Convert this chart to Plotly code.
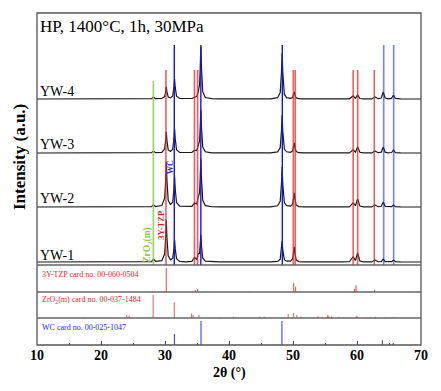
import plotly.graph_objects as go

# ---------------- data ----------------
two_theta = [10, 27.4, 27.9, 28.2, 28.5, 29.5, 29.95, 30.1, 30.2, 30.3, 30.5, 30.85, 31.2, 31.4, 31.5,
             31.6, 31.8, 32.3, 33.3, 34.2, 34.6, 34.95, 35.2, 35.4, 35.5, 35.6, 35.7, 35.9, 36.3, 37.3,
             38.5, 46.5, 47.6, 48.0, 48.2, 48.3, 48.4, 48.65, 49.0, 49.6, 49.95, 50.1, 50.2, 50.3, 50.5,
             50.9, 51.8, 57.5, 58.8, 59.4, 59.75, 60.1, 60.45, 61.0, 62.3, 62.8, 63.3, 63.8, 64.1, 64.4,
             64.9, 65.4, 65.7, 66.0, 66.8, 70]

yw4 = [0, 0.1, 0.3, 2, 0.4, 0.5, 2.4, 7.2, 12.2, 7.3, 2.0, 1.1, 3.0, 12, 20,
       11.8, 2.8, 0.5, 0.3, 0.5, 1.8, 2.4, 7.3, 14.3, 31.1, 52.2, 30.7, 7.3, 1.5, 0.3,
       0.1, 0.2, 1.3, 6.4, 27, 46, 27, 4.8, 1.4, 0.6, 1.5, 4.3, 7.2, 4.3, 1.1,
       0.3, 0.1, 0.1, 0.15, 3.1, 0.7, 4.1, 0.5, 0.1, 0.1, 2.1, 0.3, 1.0, 7, 1.0,
       0.2, 0.6, 4, 0.56, 0.1, 0]
yw3 = [0, 0.1, 0.3, 2, 0.4, 0.7, 4.1, 12.6, 21.2, 12.6, 3.2, 1.5, 3.7, 14.4, 24.1,
       14.2, 3.4, 0.6, 0.3, 0.5, 2.8, 2.4, 7.7, 12.2, 26, 43.3, 25.4, 6.0, 1.25, 0.2,
       0.1, 0.2, 1.1, 5.3, 22.4, 38, 22.4, 4.0, 1.2, 0.7, 2.1, 6.1, 10.1, 6.0, 1.4,
       0.3, 0.1, 0.1, 0.15, 3.2, 0.9, 6.1, 0.7, 0.1, 0.1, 2.1, 0.3, 0.9, 6, 0.84,
       0.2, 0.5, 3, 0.42, 0.1, 0]
yw2 = [0, 0.1, 0.3, 2.2, 0.5, 1.5, 8.8, 26.9, 45.3, 26.9, 6.7, 2.5, 4.8, 18.2, 30.4,
       18, 4.4, 0.8, 0.3, 0.6, 3.9, 3.0, 10.2, 14.1, 29.1, 48.3, 28.3, 6.7, 1.4, 0.25,
       0.1, 0.2, 1.2, 5.6, 23.6, 40, 23.6, 4.2, 1.3, 0.9, 2.9, 8.5, 14.1, 8.3, 2.0,
       0.4, 0.1, 0.1, 0.2, 4.2, 1.3, 8.1, 0.9, 0.1, 0.1, 2.1, 0.3, 0.7, 5, 0.7,
       0.15, 0.3, 2, 0.3, 0.05, 0]
yw1 = [0, 0.1, 0.4, 3.1, 0.6, 1.3, 8.2, 25, 42.2, 25, 6.2, 2.1, 3.7, 13.4, 22.3,
       13.1, 3.3, 0.6, 0.2, 0.6, 4.6, 2.5, 8.4, 8.6, 16.7, 27.3, 15.9, 3.8, 0.8, 0.15,
       0.1, 0.1, 0.6, 2.9, 12.4, 21, 12.4, 2.3, 0.8, 0.8, 3.0, 9.0, 15.1, 8.9, 2.1,
       0.45, 0.1, 0.1, 0.25, 5.3, 1.5, 9.2, 1.0, 0.15, 0.1, 2.05, 0.25, 0.4, 3, 0.4,
       0.1, 0.3, 2, 0.3, 0.05, 0]

samples = ["YW-1", "YW-2", "YW-3", "YW-4"]
sample_curves = [yw1, yw2, yw3, yw4]

# phase marker lines
tzp_lines = [30.15, 34.6, 35.1, 50.05, 50.35, 59.4, 60.1, 62.7]
wc_lines = [31.45, 35.6, 48.33]
wc_lines_light = [64.17, 65.73]
m_lines = [28.18]

# reference cards (2theta, relative intensity %)
tzp_pos = [30.2, 34.75, 35.1, 43.1, 50.1, 50.4, 59.6, 59.85, 62.75, 68.0]
tzp_int = [100, 8, 12, 2, 38, 22, 14, 28, 8, 2]
m_pos = [17.4, 24.0, 24.4, 28.15, 31.45, 34.15, 34.4, 35.3, 38.5, 40.7, 41.0, 44.8, 45.5,
         49.25, 50.1, 50.6, 51.2, 53.9, 55.4, 55.6, 56.0, 57.2, 57.9, 59.9, 60.05, 61.4,
         62.1, 62.9, 64.3, 65.7, 66.1]
m_int = [4, 12, 10, 100, 68, 20, 13, 13, 4, 6, 4, 5, 5,
         17, 22, 13, 6, 8, 12, 10, 6, 5, 4, 8, 6, 4,
         4, 5, 3, 5, 3]
wc_pos = [31.47, 35.63, 48.27, 63.96, 65.67]
wc_int = [46, 100, 100, 20, 8]

x_ticks = [10, 20, 30, 40, 50, 60, 70]

# ---------------- layout constants ----------------
offsets = [3, 58, 112, 166]
FONT = "Liberation Serif"
RED = "rgba(232,40,40,0.75)"
BLUE = "rgb(20,20,235)"
BLUE_L = "rgba(40,40,235,0.6)"
GREEN = "rgba(140,210,80,0.9)"


def seg(xs, top, bottom=0):
    X, Y = [], []
    for v in xs:
        X += [v, v, None]
        Y += [bottom, top, None]
    return X, Y


def sticks(xs, hs):
    X, Y = [], []
    for v, h in zip(xs, hs):
        X += [v, v, None]
        Y += [0, h, None]
    return X, Y


fig = go.Figure()

for name, curve, off in zip(samples, sample_curves, offsets):
    fig.add_trace(go.Scatter(x=two_theta, y=[v + off for v in curve], mode="lines",
                             line=dict(color="#1a1a1a", width=1.2), name=name,
                             showlegend=False, hoverinfo="skip"))

for xs, top, col, w in [(m_lines, 184, GREEN, 1.6), (tzp_lines, 195, RED, 1.6),
                        (wc_lines, 220, BLUE, 1.4), (wc_lines_light, 220, BLUE_L, 1.6)]:
    X, Y = seg(xs, top)
    fig.add_trace(go.Scatter(x=X, y=Y, mode="lines", line=dict(color=col, width=w),
                             showlegend=False, hoverinfo="skip"))

for pos, inten, col, ax in [(tzp_pos, tzp_int, "rgba(232,40,40,0.8)", "y2"),
                            (m_pos, m_int, "rgba(232,40,40,0.7)", "y3"),
                            (wc_pos, wc_int, "rgba(30,30,235,0.85)", "y4")]:
    X, Y = sticks(pos, inten)
    fig.add_trace(go.Scatter(x=X, y=Y, mode="lines", line=dict(color=col, width=1.1),
                             yaxis=ax, showlegend=False, hoverinfo="skip"))

H = 332.0


def py(pix):
    return (345 - pix) / H


d1 = py(265)
d2 = py(292)
d3 = py(318)

fig.update_layout(
    width=441, height=391,
    margin=dict(l=37, r=20, t=13, b=46, autoexpand=False),
    paper_bgcolor="white", plot_bgcolor="white",
    font=dict(family=FONT, color="black"),
    xaxis=dict(range=[10, 70], tickvals=x_ticks, ticks="inside", ticklen=4, tickcolor="#444",
               minor=dict(ticks="inside", ticklen=2, dtick=5, tickcolor="#444"),
               showgrid=False, zeroline=False, anchor="y4", showline=False, automargin=False,
               tickfont=dict(family=FONT, size=14, color="black", weight="bold")),
    yaxis=dict(domain=[d1, 1], range=[0, 252], visible=False, automargin=False),
    yaxis2=dict(domain=[d2, d1], range=[0, 112.5], visible=False, automargin=False),
    yaxis3=dict(domain=[d3, d2], range=[0, 113], visible=False, automargin=False),
    yaxis4=dict(domain=[0, d3], range=[0, 112.5], visible=False, automargin=False),
)

shapes = [dict(type="rect", xref="paper", yref="paper", x0=0, x1=1, y0=0, y1=1,
               line=dict(color="#555", width=1.3))]
for d in (d1, d2, d3):
    shapes.append(dict(type="line", xref="paper", yref="paper", x0=0, x1=1, y0=d, y1=d,
                       line=dict(color="#666", width=1.3)))
fig.update_layout(shapes=shapes)

ann = []
ann.append(dict(text="HP, 1400°C, 1h, 30MPa", xref="paper", yref="paper", x=0.003, y=py(26),
                xanchor="left", yanchor="middle", showarrow=False, font=dict(size=17)))
for name, ypix in zip(samples, [255, 198, 145, 91]):
    ann.append(dict(text=name, xref="paper", yref="paper", x=0.003, y=py(ypix),
                    xanchor="left", yanchor="middle", showarrow=False, font=dict(size=14)))
ann.append(dict(text="3Y-TZP card no. 00-060-0504", xref="paper", yref="paper", x=0.008, y=py(274),
                xanchor="left", yanchor="middle", showarrow=False,
                font=dict(size=8, color="rgb(230,40,40)")))
ann.append(dict(text="ZrO<sub>2</sub>(m) card no. 00-037-1484", xref="paper", yref="paper", x=0.008,
                y=py(300), xanchor="left", yanchor="middle", showarrow=False,
                font=dict(size=8, color="rgb(230,40,40)")))
ann.append(dict(text="WC card no. 00-025-1047", xref="paper", yref="paper", x=0.008, y=py(327),
                xanchor="left", yanchor="middle", showarrow=False,
                font=dict(size=8, color="rgb(30,30,235)")))
ann.append(dict(text="ZrO<sub>2</sub>(m)", xref="x", yref="paper", x=27.15, y=py(265), textangle=-90,
                showarrow=False, font=dict(size=9.5, color="rgb(140,200,70)", weight="bold")))
ann.append(dict(text="3Y-TZP", xref="x", yref="paper", x=29.35, y=py(225), textangle=-90,
                showarrow=False, font=dict(size=8.5, color="rgb(230,30,30)", weight="bold")))
ann.append(dict(text="WC", xref="x", yref="paper", x=30.8, y=py(167), textangle=-90,
                showarrow=False, font=dict(size=8, color="rgb(30,30,235)", weight="bold")))
ann.append(dict(text="Intensity (a.u.)", xref="paper", yref="paper", x=(20 - 37) / 384.0, y=py(157),
                textangle=-90, showarrow=False, xanchor="center", yanchor="middle",
                font=dict(size=17, weight="bold")))
ann.append(dict(text="2θ (°)", xref="paper", yref="paper", x=0.5, y=py(373),
                showarrow=False, xanchor="center", yanchor="middle",
                font=dict(size=14, weight="bold")))
fig.update_layout(annotations=ann)

fig.write_html("out.html", config={"displayModeBar": False},
               post_script="document.body.style.margin='0';document.body.style.padding='0';")
